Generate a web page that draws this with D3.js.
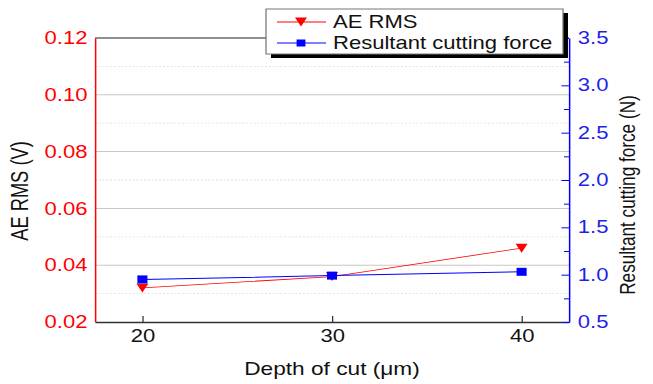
<!DOCTYPE html>
<html>
<head>
<meta charset="utf-8">
<script src="https://cdn.jsdelivr.net/npm/d3@7"></script>
<style>
  body { margin: 0; background: #fff; }
  svg { display: block; font-family: 'Liberation Sans', Arial, sans-serif; }
</style>
</head>
<body>
<div id="vis"></div>
<script>
const depth = [20, 30, 40];
const aeRms = [0.032, 0.036, 0.046];
const force = [0.95, 0.99, 1.03];

const aeTicks = [0.02, 0.04, 0.06, 0.08, 0.10, 0.12];
const aeMinor = [0.03, 0.05, 0.07, 0.09, 0.11];
const forceTicks = [0.5, 1.0, 1.5, 2.0, 2.5, 3.0, 3.5];
const forceMinor = [0.75, 1.25, 1.75, 2.25, 2.75, 3.25];
const seriesNames = ['AE RMS', 'Resultant cutting force'];

// the picture is stretched sideways, so draw in a narrower box and let the viewBox stretch it
const STRETCH = 1.26;
const WIDTH = 653;
const HEIGHT = 384;
const W = WIDTH / STRETCH;

const LEFT = 95 / STRETCH;
const RIGHT = 569 / STRETCH;
const TOP = 38;
const BOTTOM = 322;

const RED = '#ff0000';
const BLUE = '#0000ff';

const svg = d3.select('#vis').append('svg')
    .attr('width', WIDTH)
    .attr('height', HEIGHT)
    .attr('viewBox', `0 0 ${W} ${HEIGHT}`)
    .attr('preserveAspectRatio', 'none');

const x = d3.scaleLinear().domain([17.5, 42.5]).range([LEFT, RIGHT]);
const yL = d3.scaleLinear().domain([0.02, 0.12]).range([BOTTOM, TOP]);
const yR = d3.scaleLinear().domain([0.5, 3.5]).range([BOTTOM, TOP]);

// grid
svg.append('g')
    .selectAll('line')
    .data(aeTicks.slice(1, -1))
    .join('line')
    .attr('x1', LEFT).attr('x2', RIGHT)
    .attr('y1', d => yL(d)).attr('y2', d => yL(d))
    .attr('stroke', '#c8c8c8').attr('stroke-width', 1);

svg.append('g')
    .selectAll('line')
    .data(aeMinor)
    .join('line')
    .attr('x1', LEFT).attr('x2', RIGHT)
    .attr('y1', d => yL(d)).attr('y2', d => yL(d))
    .attr('stroke', '#dcdcdc').attr('stroke-width', 0.8)
    .attr('stroke-dasharray', '1.5,1.5');

// top frame
svg.append('line')
    .attr('x1', LEFT).attr('x2', RIGHT)
    .attr('y1', TOP).attr('y2', TOP)
    .attr('stroke', '#222').attr('stroke-width', 1);

// bottom axis
const xAxis = svg.append('g')
    .attr('transform', `translate(0,${BOTTOM})`)
    .call(d3.axisBottom(x).tickValues(depth).tickSize(-6).tickSizeOuter(0).tickPadding(8));
xAxis.select('.domain').attr('stroke', '#333').attr('stroke-width', 1.4);
xAxis.selectAll('.tick line').attr('stroke', '#333');
xAxis.selectAll('text').attr('font-size', 17.5).attr('fill', '#111');

// left axis
const yAxisL = svg.append('g')
    .attr('transform', `translate(${LEFT},0)`)
    .call(d3.axisLeft(yL).tickValues(aeTicks).tickSize(0).tickPadding(6).tickFormat(d3.format('.2f')));
yAxisL.select('.domain').attr('stroke', RED).attr('stroke-width', 1.2);
yAxisL.selectAll('text').attr('font-size', 17.5).attr('fill', RED);

// right axis
svg.append('g')
    .attr('transform', `translate(${RIGHT},0)`)
    .call(d3.axisRight(yR).tickValues(forceMinor).tickSize(-4).tickFormat(''))
    .call(g => g.select('.domain').remove())
    .selectAll('line').attr('stroke', BLUE);

const yAxisR = svg.append('g')
    .attr('transform', `translate(${RIGHT},0)`)
    .call(d3.axisRight(yR).tickValues(forceTicks).tickSize(-6).tickSizeOuter(0).tickPadding(7).tickFormat(d3.format('.1f')));
yAxisR.select('.domain').attr('stroke', BLUE).attr('stroke-width', 1.2);
yAxisR.selectAll('.tick line').attr('stroke', BLUE);
yAxisR.selectAll('text').attr('font-size', 17.5).attr('fill', '#1f1fe8');

// axis titles
svg.append('text')
    .attr('x', (LEFT + RIGHT) / 2)
    .attr('y', 375)
    .attr('text-anchor', 'middle')
    .attr('font-size', 18)
    .attr('fill', '#111')
    .text('Depth of cut (μm)');

svg.append('text')
    .attr('transform', `translate(${28 / STRETCH},191) rotate(-90)`)
    .attr('text-anchor', 'middle')
    .attr('font-size', 18.3)
    .attr('fill', '#111')
    .text('AE RMS (V)');

svg.append('text')
    .attr('transform', `translate(${635 / STRETCH},195) rotate(-90)`)
    .attr('text-anchor', 'middle')
    .attr('font-size', 17.2)
    .attr('fill', '#111')
    .text('Resultant cutting force (N)');

// markers
const tri = (cx, cy, w, h) => `M${cx - w / 2},${cy - h / 2}L${cx + w / 2},${cy - h / 2}L${cx},${cy + h / 2}Z`;
const sq = (cx, cy, w, h) => `M${cx - w / 2},${cy - h / 2}h${w}v${h}h${-w}Z`;

const redLine = d3.line().x((d, i) => x(depth[i])).y(d => yL(d));
const blueLine = d3.line().x((d, i) => x(depth[i])).y(d => yR(d));

svg.append('path')
    .attr('d', redLine(aeRms))
    .attr('fill', 'none').attr('stroke', RED).attr('stroke-width', 0.8);

svg.append('path')
    .attr('d', blueLine(force))
    .attr('fill', 'none').attr('stroke', BLUE).attr('stroke-width', 1);

svg.append('g')
    .selectAll('path')
    .data(aeRms)
    .join('path')
    .attr('d', (d, i) => tri(x(depth[i]), yL(d), 9.5, 9))
    .attr('fill', RED);

svg.append('g')
    .selectAll('path')
    .data(force)
    .join('path')
    .attr('d', (d, i) => sq(x(depth[i]), yR(d), 8, 8))
    .attr('fill', BLUE);

// legend
const lx = 266 / STRETCH, ly = 9, lw = (563 - 266) / STRETCH, lh = 45;
const legend = svg.append('g');
legend.append('rect')
    .attr('x', lx + 5 / STRETCH).attr('y', ly + 4)
    .attr('width', lw).attr('height', lh)
    .attr('fill', '#000');
legend.append('rect')
    .attr('x', lx).attr('y', ly)
    .attr('width', lw).attr('height', lh)
    .attr('fill', '#fff').attr('stroke', '#777').attr('stroke-width', 1);

const rowY = [22, 43];
const rowColor = [RED, BLUE];
const l1 = 277 / STRETCH, l2 = 326 / STRETCH, lm = 301 / STRETCH;

const rows = legend.selectAll('g.row')
    .data(seriesNames)
    .join('g')
    .attr('class', 'row');
rows.append('line')
    .attr('x1', l1).attr('x2', l2)
    .attr('y1', (d, i) => rowY[i]).attr('y2', (d, i) => rowY[i])
    .attr('stroke', (d, i) => rowColor[i])
    .attr('stroke-width', (d, i) => i === 0 ? 0.8 : 1);
rows.append('path')
    .attr('d', (d, i) => i === 0 ? tri(lm, rowY[i], 9.5, 9) : sq(lm, rowY[i], 7, 7))
    .attr('fill', (d, i) => rowColor[i]);
rows.append('text')
    .attr('x', 333 / STRETCH)
    .attr('y', (d, i) => rowY[i] + 6)
    .attr('font-size', 17.5)
    .attr('fill', '#111')
    .text(d => d);
</script>
</body>
</html>
